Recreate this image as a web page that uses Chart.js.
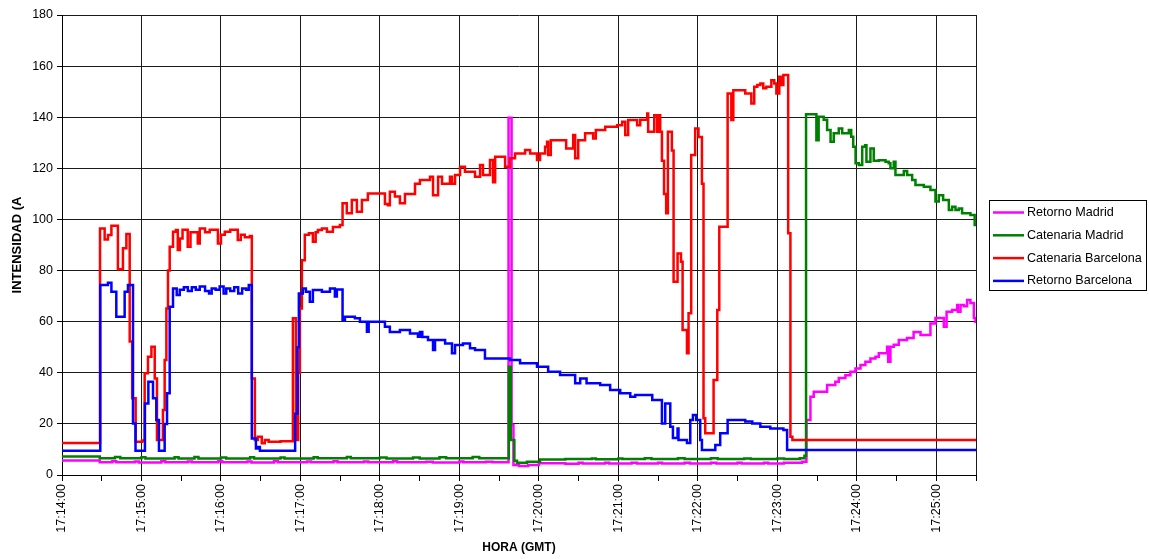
<!DOCTYPE html>
<html>
<head>
<meta charset="utf-8">
<script src="https://cdn.jsdelivr.net/npm/chart.js@4"></script>
<style>
html, body { margin: 0; padding: 0; background: #fff; }
</style>
</head>
<body>
<canvas id="grafico" width="1149" height="559"></canvas>
<script>
// segundos desde las 17:14:00, cada punto vale hasta el siguiente
var etiquetasHora = ['17:14:00', '17:15:00', '17:16:00', '17:17:00', '17:18:00', '17:19:00',
    '17:20:00', '17:21:00', '17:22:00', '17:23:00', '17:24:00', '17:25:00'];

var tRetornoMadrid = [0, 28.5, 38, 41, 55, 58, 75, 78, 95, 98,
    118, 121, 140, 143, 160, 163, 185, 188, 205, 208,
    228, 231, 250, 253, 275, 280, 300, 303, 320, 325,
    337.1, 339.4, 340.8, 345, 352, 360, 380, 390, 393, 410,
    413, 430, 434, 450, 453, 470, 474, 490, 494, 510,
    513, 530, 533, 545, 558.7, 562, 565, 567.5, 577.6, 583.8,
    586.4, 591.4, 595.2, 599, 602.8, 606.5, 610.3, 614.1, 616.6, 622.9,
    623.7, 625.4, 627.9, 631.7, 637.9, 642.9, 648.1, 655.6, 659.4, 664.4,
    665.7, 667.8, 672, 675.8, 676.3, 678.3, 680.8, 683.3, 685.8, 688.4,
    689.6, 690];
var retornoMadrid = [5.7, 5, 5.4, 5, 5.3, 4.9, 5.4, 5, 5.3, 5,
    5.4, 5, 5.3, 4.9, 5.4, 5, 5.3, 5, 5.4, 5,
    5.3, 5, 5.4, 5, 5.2, 4.9, 5.3, 5, 5.2, 5,
    139.8, 19.6, 3.9, 3.5, 3.9, 4.6, 4.4, 4.8, 4.5, 4.8,
    4.5, 4.8, 4.5, 4.8, 4.5, 4.8, 4.5, 4.8, 4.5, 4.8,
    4.5, 4.8, 4.5, 4.8, 5.2, 21.5, 30.6, 32.6, 35.2, 36.5,
    38, 39, 40.4, 41.7, 43, 44.3, 45.6, 46.3, 47.6, 50.2,
    44.3, 50.2, 51, 52.8, 53.6, 56, 54.8, 59.3, 61.4, 61.4,
    58, 63.9, 64.6, 66.5, 63.9, 66.5, 66, 68.5, 67.3, 61.4,
    60, 60];

var tCatenariaMadrid = [0, 28.5, 40, 44, 60, 63, 85, 88, 100, 103,
    120, 124, 142, 145, 165, 168, 190, 193, 215, 218,
    240, 245, 265, 270, 285, 290, 310, 315, 337.3, 338.8,
    341.5, 343.5, 351, 360.9, 380, 400, 403, 420, 423, 440,
    445, 465, 470, 490, 495, 515, 520, 540, 545, 557,
    560.5, 561.7, 569.5, 571.2, 575, 577.6, 580.2, 582.6, 586.4, 589,
    594, 595.8, 597.3, 599.1, 601.6, 604.1, 606.3, 607.3, 610.3, 612.8,
    616.6, 621.7, 624.1, 625.4, 627.9, 629.2, 635.5, 638, 641.8, 644.3,
    650.6, 655.6, 659.4, 661.9, 665.2, 669.5, 672, 674.5, 677, 679.5,
    685.8, 689, 690];
var catenariaMadrid = [7.2, 6.6, 7, 6.6, 6.9, 6.5, 6.9, 6.5, 7, 6.5,
    6.8, 6.5, 6.9, 6.5, 6.8, 6.5, 6.9, 6.6, 7, 6.6,
    6.8, 6.5, 6.8, 6.5, 6.9, 6.6, 7, 6.6, 42.4, 13.7,
    5.6, 4.8, 5.2, 6.1, 6.3, 6.5, 6.2, 6.5, 6.3, 6.6,
    6.3, 6.6, 6.3, 6.6, 6.3, 6.5, 6.3, 6.5, 6.3, 6.6,
    7.5, 141.2, 131, 140.2, 139, 135, 130.4, 133.7, 135.6, 133.7,
    135, 132.4, 128.4, 122, 121.3, 128.4, 129, 122.6, 127.8, 123,
    123.2, 122.6, 122, 120, 122.6, 117.4, 119, 117.4, 115.4, 113.5,
    112.8, 111.5, 107, 109.5, 107.6, 103.7, 105, 103.7, 104.3, 102.4,
    101.7, 97.8, 97.8];

var tCatenariaBarcelona = [0, 28.7, 32.2, 34.7, 37.3, 42.2, 46.0, 48.6, 51.1, 53.0,
    55.6, 60.5, 62.4, 64.9, 67.5, 70.0, 71.7, 76.2, 77.5, 78.8,
    80.0, 81.3, 83.8, 86.0, 87.4, 89.0, 91.0, 94.9, 97.0, 102.5,
    104.0, 108.0, 111.5, 117.7, 120.0, 122.9, 127.0, 132.7, 135.0, 138.0,
    141.8, 143.3, 145.6, 147.8, 150.8, 153.1, 156.0, 165.0, 174.3, 176.6,
    178.3, 179.6, 181.1, 183.3, 186.4, 189.4, 191.5, 193.2, 196.2, 200.0,
    204.5, 209.8, 211.8, 215.0, 218.8, 222.6, 226.4, 230.9, 243.8, 246.0,
    247.5, 251.3, 255.1, 258.9, 266.5, 270.2, 277.8, 280.1, 283.9, 286.9,
    292.9, 294.4, 296.7, 300.5, 304.2, 311.8, 315.6, 317.8, 323.1, 325.4,
    327.0, 334.5, 338.2, 342.0, 349.6, 353.4, 358.6, 360.9, 364.7, 366.2,
    367.0, 369.0, 380.6, 385.9, 387.4, 389.7, 394.9, 401.0, 403.0, 410.1,
    419.1, 422.9, 425.2, 427.4, 434.2, 436.5, 441.8, 442.5, 447.1, 449.3,
    450.1, 451.6, 452.9, 454.5, 456.1, 457.4, 460.4, 461.7, 464.7, 467.3,
    468.5, 471.8, 473.0, 475.0, 478.0, 480.5, 483.1, 484.3, 485.6, 491.9,
    494.7, 496.2, 502.5, 505.3, 506.8, 515.8, 520.4, 522.6, 524.9, 527.2,
    529.4, 531.7, 535.5, 537.7, 539.3, 541.5, 543.0, 544.6, 548.2, 549.9,
    551.4, 690];
var catenariaBarcelona = [12.5, 96.5, 92.2, 93.9, 97.5, 80.5, 88.7, 94.3, 52.2, 30,
    13, 13.5, 39.8, 46.3, 50.2, 37.8, 13.7, 25.4, 45, 65.2,
    80, 89.3, 95.2, 95.9, 88, 92.5, 96, 89.3, 95, 90.6,
    96.5, 95, 96, 90.6, 94, 95.2, 96, 92, 94, 93,
    93.5, 37.8, 13.7, 15, 12.4, 13.7, 13, 13.2, 61.3, 13.7,
    40, 65.2, 84, 94, 94.6, 91.3, 95, 95.9, 96.5, 95.2,
    97, 97.8, 106.3, 102.4, 107.6, 103, 107.6, 110.2, 106, 105.6,
    110.8, 109, 106.3, 110, 114, 115.4, 116.7, 109.5, 116.7, 114,
    116.7, 114, 117.4, 120.6, 118.7, 116.7, 121.3, 117.4, 123.3, 114.6,
    124.5, 120.6, 123.9, 125.8, 127.2, 125.8, 123.3, 125.8, 128.4, 130.4,
    125.2, 131, 127.8, 133, 123.9, 131, 133.7, 131.7, 135, 136.3,
    136.9, 138.2, 133, 138.9, 136.9, 139, 141.5, 134.3, 140.8, 134.3,
    140.8, 134.3, 123, 110, 102.4, 134.3, 127, 75.6, 86.7, 83.4,
    56.7, 47.6, 63.3, 125.2, 135.6, 132.3, 114, 22.2, 16.3, 37.2,
    64.6, 97.1, 149.3, 138.9, 150.6, 149.3, 145.4, 151.9, 152.6, 153.2,
    151.3, 151.9, 154.5, 153.2, 149.3, 155.8, 152.6, 156.5, 94.6, 15,
    13.7, 13.7];

var tRetornoBarcelona = [0, 28.9, 34.7, 37.3, 41.0, 47.3, 49.8, 53.6, 55.5, 62.6,
    65.2, 68.7, 71.2, 73.2, 77.5, 79.3, 81.3, 83.8, 86.6, 88.9,
    92, 95, 98, 101, 104, 108, 111, 113, 116, 119,
    122, 124, 127, 130, 133, 136, 139, 141, 143.3, 146.4,
    147.8, 149.4, 176, 177.8, 178.8, 181.8, 184.1, 187.1, 189.4, 196.2,
    202.3, 206, 207.5, 211.8, 213.6, 221.1, 224.9, 230.2, 231.5, 243.8,
    247.5, 255.1, 262.7, 268.7, 270.2, 272, 276.3, 280.1, 281.6, 289.2,
    294.4, 296.7, 302.7, 308, 311.8, 319.3, 334, 338.2, 345.8, 358.6,
    367, 376, 387.4, 391.2, 396, 406.3, 413.8, 421.4, 429, 432.7,
    445.6, 452.9, 455.4, 459.2, 461.2, 464.7, 465.4, 471.8, 474.3, 476.3,
    478.8, 481.8, 483.1, 493.2, 496.9, 502.5, 515.8, 521.1, 527.2, 534.7,
    544.6, 547.4, 690];
var retornoBarcelona = [9.5, 74.3, 75.2, 71.7, 61.9, 71.7, 74.3, 20.2, 9.5, 28,
    36.5, 30, 21.5, 9.5, 20, 32, 65.8, 73, 70.4, 72.5,
    73.5, 72, 73.5, 72.5, 73.8, 72, 71, 73, 72.5, 73.8,
    71, 73, 72, 73.5, 71, 73, 72.5, 74.3, 14.3, 10.4,
    11, 9.5, 24, 50, 71, 73, 71.7, 67.8, 72.4, 71.7,
    73, 69.8, 72.6, 60.6, 61.9, 61.3, 60, 56.1, 60, 58,
    56, 56.7, 55.4, 54.1, 56, 54, 52.8, 48.9, 52.8, 51.5,
    47.6, 50.9, 51.5, 49.6, 48.9, 45.6, 45.6, 45, 43.7, 42.4,
    40.4, 39.1, 35.9, 37.8, 35.9, 35.2, 33.3, 32, 30.6, 31.3,
    29.3, 20.2, 28, 18.9, 14.5, 18.2, 13.7, 12.5, 21.5, 23.5,
    21.5, 13.7, 9.8, 11.7, 16.3, 21.5, 20.9, 20.2, 18.9, 18.2,
    17.6, 9.8, 9.8];

var fuente = '"Liberation Sans", Arial, sans-serif';

function puntos(t, v) {
    return t.map(function (x, i) { return { x: x, y: v[i] }; });
}

function serie(nombre, t, v, color, orden) {
    return {
        label: nombre,
        data: puntos(t, v),
        borderColor: color,
        backgroundColor: color,
        borderWidth: 2.5,
        pointRadius: 0,
        stepped: true,
        fill: false,
        order: orden
    };
}

// leyenda con recuadro a la derecha
var leyenda = {
    id: 'leyenda',
    afterDraw: function (chart) {
        var ctx = chart.ctx;
        ctx.save();
        ctx.strokeStyle = '#000';
        ctx.lineWidth = 1;
        ctx.strokeRect(989.5, 200.5, 157, 90);
        ctx.font = '12.6px ' + fuente;
        ctx.textBaseline = 'middle';
        chart.data.datasets.forEach(function (ds, i) {
            var y = 212.5 + i * 22.8;
            ctx.strokeStyle = ds.borderColor;
            ctx.lineWidth = 2.5;
            ctx.beginPath();
            ctx.moveTo(993, y);
            ctx.lineTo(1024, y);
            ctx.stroke();
            ctx.fillStyle = '#000';
            ctx.fillText(ds.label, 1027, y);
        });
        ctx.restore();
    }
};

var ctx = document.getElementById('grafico').getContext('2d');
var grafico = new Chart(ctx, {
    type: 'line',
    data: {
        datasets: [
            serie('Retorno Madrid', tRetornoMadrid, retornoMadrid, '#FF00FF', 4),
            serie('Catenaria Madrid', tCatenariaMadrid, catenariaMadrid, '#008000', 3),
            serie('Catenaria Barcelona', tCatenariaBarcelona, catenariaBarcelona, '#FF0000', 2),
            serie('Retorno Barcelona', tRetornoBarcelona, retornoBarcelona, '#0000FF', 1)
        ]
    },
    options: {
        responsive: false,
        animation: false,
        layout: { padding: { top: 15, right: 173, left: 0, bottom: 0 } },
        plugins: {
            legend: { display: false },
            tooltip: { enabled: false }
        },
        scales: {
            x: {
                type: 'linear',
                min: 0,
                max: 690,
                afterFit: function (s) { s.height = 84; },
                ticks: {
                    stepSize: 30,
                    autoSkip: false,
                    minRotation: 90,
                    maxRotation: 90,
                    padding: 3,
                    color: '#000',
                    font: { family: fuente, size: 12.5 },
                    callback: function (v) { return v % 60 === 0 ? etiquetasHora[v / 60] : ''; }
                },
                grid: {
                    color: function (c) {
                        if (!c.tick) return 'rgba(0,0,0,0)';
                        return (c.tick.value % 60 === 0 || c.tick.value === 690) ? '#1a1a1a' : 'rgba(0,0,0,0)';
                    },
                    tickColor: '#000',
                    tickLength: 6,
                    lineWidth: 1
                },
                border: { color: '#000', width: 1 },
                title: {
                    display: true,
                    text: 'HORA (GMT)',
                    color: '#000',
                    font: { family: fuente, size: 12, weight: 'bold' },
                    padding: { top: 0, bottom: 4 }
                }
            },
            y: {
                min: 0,
                max: 180,
                afterFit: function (s) { s.width = 62; },
                ticks: {
                    stepSize: 20,
                    padding: 4,
                    color: '#000',
                    font: { family: fuente, size: 12.5 }
                },
                grid: { color: '#1a1a1a', tickColor: '#000', tickLength: 5, lineWidth: 1 },
                border: { color: '#000', width: 1 },
                title: {
                    display: true,
                    text: 'INTENSIDAD (A',
                    color: '#000',
                    font: { family: fuente, size: 13, weight: 'bold' },
                    padding: { top: 10, bottom: 0 }
                }
            }
        }
    },
    plugins: [leyenda]
});
</script>
</body>
</html>
